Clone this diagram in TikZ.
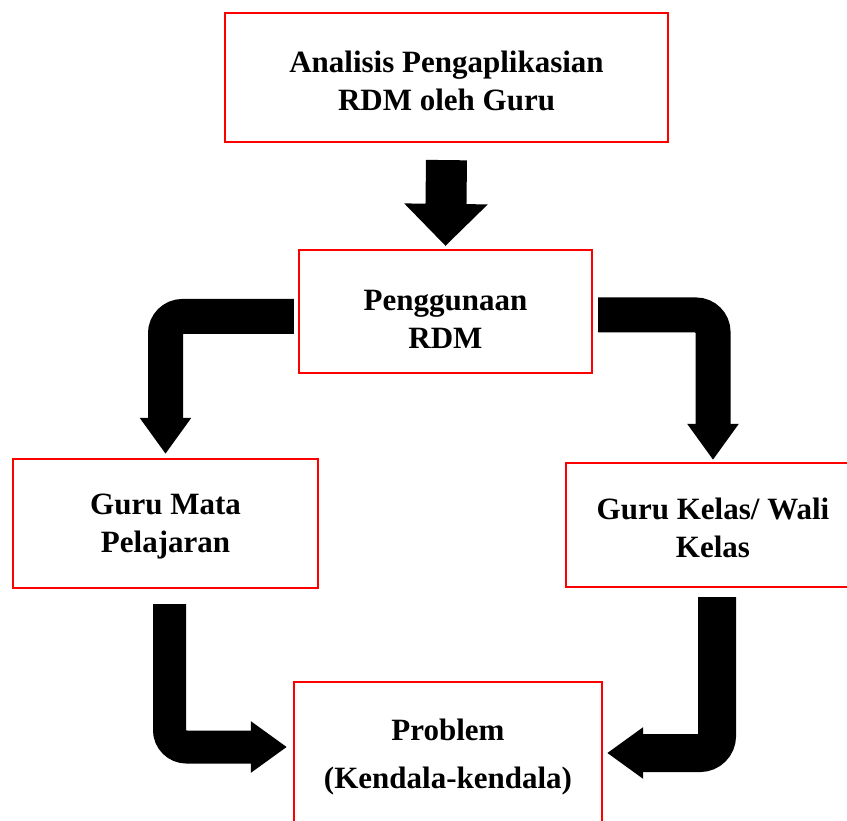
\documentclass[tikz,border=0pt]{standalone}
\usepackage{fontspec}
\setmainfont{Liberation Serif}
\usetikzlibrary{arrows.meta}
\begin{document}
\begin{tikzpicture}[x=1pt, y=-1pt,
    box/.style = {draw=red, line width=2.2pt, align=center, inner sep=0pt,
                  font=\bfseries\fontsize{31}{38}\selectfont},
    fatarrow/.style = {line width=35pt, rounded corners=17pt,
                       -{Triangle[width=49pt,length=36pt]}}]
    \clip (0,0) rectangle (847,821);
    % boxes (\rule pushes the text a little down, as in the original)
    \node[box, minimum width=443pt, minimum height=129pt] (analisis) at (446.5,77.5)
        {\rule{0pt}{29pt}Analisis Pengaplikasian\\RDM oleh Guru};
    \node[box, minimum width=293pt, minimum height=123pt] (penggunaan) at (445.5,311.5)
        {\rule{0pt}{36pt}Penggunaan\\RDM};
    \node[box, minimum width=305pt, minimum height=129pt] (gurumapel) at (165.5,523.5)
        {\rule{0pt}{27.5pt}Guru Mata\\Pelajaran};
    \node[box, minimum width=294pt, minimum height=124pt] (gurukelas) at (713,525)
        {\rule{0pt}{27.5pt}Guru Kelas/ Wali\\Kelas};
    \node[box, minimum width=308pt, minimum height=150pt] (problem) at (448,757)
        {Problem\\[10pt](Kendala-kendala)};

    % fat arrows
    \draw[line width=41pt, -{Triangle[width=81pt,length=42pt]}]
        ([yshift=-17pt]analisis.south) -- ([yshift=3pt]penggunaan.north);
    \draw[fatarrow] ([xshift=-4pt,yshift=-5pt]penggunaan.west) -| ([yshift=4pt]gurumapel.north);
    \draw[fatarrow] ([xshift=5pt,yshift=-3.5pt]penggunaan.east) -| ([yshift=2pt]gurukelas.north);
    \draw[fatarrow, line width=33pt] ([xshift=4pt,yshift=-15pt]gurumapel.south)
        |- ([xshift=-6pt,yshift=10pt]problem.west);
    \draw[fatarrow, line width=38pt] ([xshift=4pt,yshift=-9pt]gurukelas.south)
        |- ([xshift=4pt,yshift=4pt]problem.east);
    % \draw[help lines, step=50] (0,0) grid (847,821);
\end{tikzpicture}
\end{document}
